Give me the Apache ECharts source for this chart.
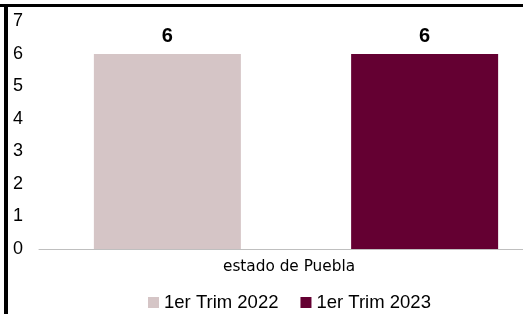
<!DOCTYPE html>
<html>
<head>
<meta charset="utf-8">
<script src="https://cdn.jsdelivr.net/npm/echarts@6/dist/echarts.min.js"></script>
<style>
html,body{margin:0;padding:0;background:#fff;}
#chart{width:523px;height:314px;}
</style>
</head>
<body>
<div id="chart"></div>
<script>
var categories = ['estado de Puebla'];
var seriesNames = ['1er Trim 2022', '1er Trim 2023'];
var values2022 = [6];
var values2023 = [6];
var colors = ['#D5C5C6', '#640032'];

var myChart = echarts.init(document.getElementById('chart'));
var option = {
    animation: false,
    textStyle: {fontFamily: 'Liberation Sans, Arial, sans-serif'},
    graphic: [
        {type: 'rect', shape: {x: 0, y: 4, width: 523, height: 3}, style: {fill: '#000'}},
        {type: 'rect', shape: {x: 4, y: 4, width: 4, height: 310}, style: {fill: '#000'}}
    ],
    legend: {
        data: seriesNames,
        bottom: -3,
        left: 143,
        icon: 'rect',
        itemWidth: 11,
        itemHeight: 11,
        itemGap: 22,
        textStyle: {fontSize: 18.5, color: '#000', fontFamily: 'Liberation Sans, Arial, sans-serif'}
    },
    grid: {left: 39, right: -30, top: 21.5, bottom: 65, outerBoundsMode: 'none', containLabel: false},
    xAxis: {
        type: 'category',
        data: categories,
        axisLine: {lineStyle: {color: '#BFBFBF', width: 1}},
        axisTick: {show: false},
        axisLabel: {color: '#000', fontSize: 15.3, fontFamily: 'DejaVu Sans', margin: 11, padding: [0, 14, 0, 0]}
    },
    yAxis: {
        type: 'value',
        min: 0,
        max: 7,
        interval: 1,
        splitLine: {show: false},
        axisLine: {show: false},
        axisTick: {show: false},
        axisLabel: {color: '#000', fontSize: 18, align: 'left', margin: 26}
    },
    series: [
        {
            name: seriesNames[0],
            type: 'bar',
            data: values2022,
            barWidth: 147,
            barGap: '75%',
            itemStyle: {color: colors[0]},
            label: {show: true, position: 'top', distance: 8, fontSize: 20, fontWeight: 'bold', color: '#000'}
        },
        {
            name: seriesNames[1],
            type: 'bar',
            data: values2023,
            barWidth: 147,
            itemStyle: {color: colors[1]},
            label: {show: true, position: 'top', distance: 8, fontSize: 20, fontWeight: 'bold', color: '#000'}
        }
    ]
};
myChart.setOption(option);
</script>
</body>
</html>
